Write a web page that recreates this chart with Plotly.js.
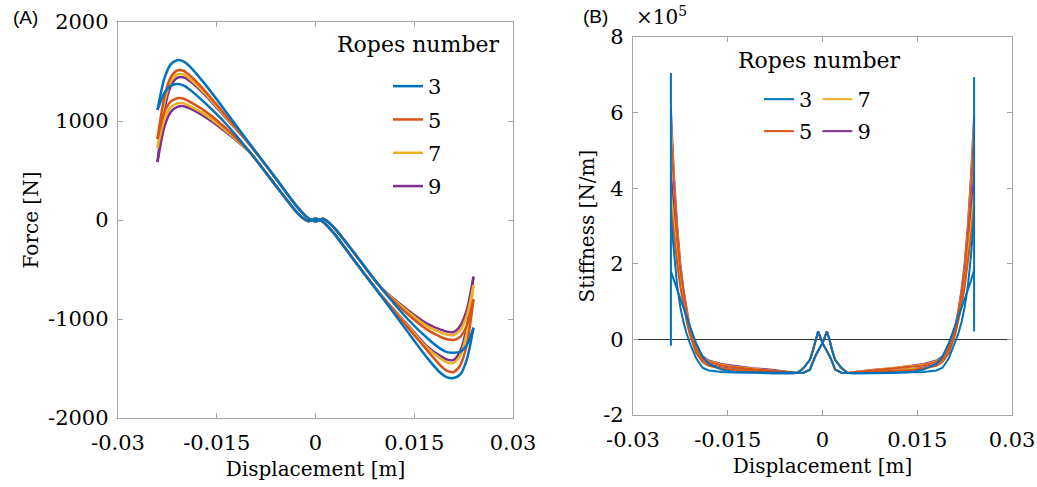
<!DOCTYPE html>
<html><head><meta charset="utf-8">
<script src="https://cdn.plot.ly/plotly-3.0.1.min.js"></script>
<style>html,body{margin:0;padding:0;background:#fff}#chart{width:1037px;height:487px}</style>
</head><body><div id="chart"></div>
<script>
// ---- categories / ticks ----
const ROPES = ['3', '5', '7', '9'];
const COLORS = ['#0072BD', '#D95319', '#EDB120', '#7E2F8E'];
const X_TICKS = [-0.03, -0.015, 0, 0.015, 0.03];
const X_TICK_TEXT = ['-0.03', '-0.015', '0', '0.015', '0.03'];
const FORCE_TICKS = [-2000, -1000, 0, 1000, 2000];
const FORCE_TICK_TEXT = ['-2000', '-1000', '0', '1000', '2000'];
const STIFF_TICKS = [-2, 0, 2, 4, 6, 8];
const STIFF_TICK_TEXT = ['-2', '0', '2', '4', '6', '8'];

// ---- panel A: force [N] vs displacement [m]; two branches (upper / lower) per rope number ----
const DISP_A = [-0.024,-0.023,-0.022,-0.021,-0.020,-0.019,-0.017,-0.014,-0.010,-0.006,-0.003,-0.002,-0.0011,-0.0006,-0.0001,0.0001,0.0006,0.0011,0.002,0.003,0.006,0.010,0.014,0.017,0.019,0.020,0.021,0.022,0.023,0.024];
const FORCE_3_UPPER = [1111,1420,1572,1614,1600,1545,1390,1130,770,420,150,75,18,-2,-12,-12,0,12,-25,-90,-345,-690,-1000,-1195,-1302,-1335,-1342,-1332,-1262,-1088];
const FORCE_3_LOWER = [1111,1280,1355,1374,1358,1312,1195,1000,690,345,90,25,-12,0,12,12,2,-18,-75,-150,-420,-770,-1130,-1395,-1545,-1590,-1596,-1560,-1405,-1088];
const FORCE_5_UPPER = [818,1230,1440,1510,1505,1455,1320,1085,765,418,150,75,18,-2,-12,-12,0,12,-25,-90,-344,-688,-950,-1110,-1180,-1205,-1212,-1178,-1062,-801];
const FORCE_5_LOWER = [818,1080,1195,1230,1225,1190,1110,950,688,344,90,25,-12,0,12,12,2,-18,-75,-150,-418,-765,-1085,-1320,-1470,-1525,-1535,-1465,-1255,-801];
const FORCE_7_UPPER = [727,1170,1395,1470,1468,1420,1295,1070,763,417,150,75,18,-2,-12,-12,0,12,-25,-90,-343,-686,-925,-1075,-1135,-1158,-1162,-1112,-962,-657];
const FORCE_7_LOWER = [727,1010,1138,1178,1178,1148,1075,925,686,343,90,25,-12,0,12,12,2,-18,-75,-150,-417,-763,-1070,-1295,-1400,-1438,-1444,-1368,-1132,-657];
const FORCE_9_UPPER = [586,1100,1350,1435,1440,1400,1280,1060,761,416,150,75,18,-2,-12,-12,0,12,-25,-90,-342,-684,-910,-1050,-1108,-1128,-1131,-1068,-902,-572];
const FORCE_9_LOWER = [586,930,1090,1142,1150,1125,1050,910,684,342,90,25,-12,0,12,12,2,-18,-75,-150,-416,-761,-1060,-1280,-1375,-1410,-1414,-1322,-1072,-572];

// ---- panel B: stiffness [x1e5 N/m] vs displacement [m] ----
const DISP_B = [-0.024,-0.0235,-0.023,-0.0225,-0.022,-0.0215,-0.021,-0.020,-0.019,-0.018,-0.016,-0.014,-0.011,-0.008,-0.005,-0.004,-0.003,-0.002,-0.0015,-0.0011,-0.0007,0,0.0007,0.0011,0.0015,0.002,0.003,0.004,0.005,0.008,0.011,0.014,0.016,0.018,0.019,0.020,0.021,0.0215,0.022,0.0225,0.023,0.0235,0.024];
const STIFF_3_UPPER = [3.2,2.2,1.4,0.85,0.45,0.15,-0.1,-0.5,-0.75,-0.82,-0.86,-0.875,-0.88,-0.89,-0.89,-0.89,-0.88,-0.8,-0.58,-0.43,-0.3,-0.1,0.21,0,-0.28,-0.54,-0.76,-0.89,-0.9,-0.9,-0.89,-0.86,-0.8,-0.65,-0.45,-0.1,0.35,0.6,0.85,1.08,1.3,1.55,1.84];
const STIFF_3_LOWER = [1.8,1.55,1.3,1.08,0.85,0.6,0.35,-0.1,-0.45,-0.65,-0.8,-0.86,-0.89,-0.9,-0.9,-0.89,-0.76,-0.54,-0.28,0,0.21,-0.1,-0.3,-0.43,-0.58,-0.8,-0.88,-0.89,-0.89,-0.89,-0.88,-0.875,-0.86,-0.82,-0.75,-0.5,-0.1,0.15,0.45,0.85,1.4,2.2,3.24];
const STIFF_5_UPPER = [5.4,3.9,2.75,1.85,1.2,0.7,0.3,-0.24,-0.5,-0.6,-0.69,-0.74,-0.79,-0.82,-0.87,-0.89,-0.88,-0.8,-0.58,-0.43,-0.3,-0.1,0.21,0,-0.28,-0.54,-0.76,-0.89,-0.88,-0.86,-0.84,-0.81,-0.77,-0.7,-0.6,-0.36,0.13,0.47,0.88,1.38,2.0,2.7,3.5];
const STIFF_5_LOWER = [3.5,2.7,2.0,1.38,0.88,0.47,0.13,-0.36,-0.6,-0.7,-0.77,-0.81,-0.84,-0.86,-0.88,-0.89,-0.76,-0.54,-0.28,0,0.21,-0.1,-0.3,-0.43,-0.58,-0.8,-0.88,-0.89,-0.87,-0.82,-0.79,-0.74,-0.69,-0.6,-0.5,-0.24,0.3,0.7,1.2,1.85,2.75,3.9,5.5];
const STIFF_7_UPPER = [5.8,4.1,2.85,1.9,1.22,0.7,0.3,-0.22,-0.47,-0.58,-0.67,-0.72,-0.77,-0.81,-0.86,-0.89,-0.88,-0.8,-0.58,-0.43,-0.3,-0.1,0.21,0,-0.28,-0.54,-0.76,-0.89,-0.88,-0.85,-0.83,-0.8,-0.76,-0.69,-0.58,-0.33,0.17,0.52,0.95,1.5,2.2,3.0,3.9];
const STIFF_7_LOWER = [3.9,3.0,2.2,1.5,0.95,0.52,0.17,-0.33,-0.58,-0.69,-0.76,-0.8,-0.83,-0.85,-0.88,-0.89,-0.76,-0.54,-0.28,0,0.21,-0.1,-0.3,-0.43,-0.58,-0.8,-0.88,-0.89,-0.86,-0.81,-0.77,-0.72,-0.67,-0.58,-0.47,-0.22,0.3,0.7,1.22,1.9,2.85,4.1,5.7];
const STIFF_9_UPPER = [6.1,4.3,3.0,2.0,1.3,0.75,0.33,-0.2,-0.45,-0.56,-0.65,-0.7,-0.76,-0.8,-0.86,-0.89,-0.88,-0.8,-0.58,-0.43,-0.3,-0.1,0.21,0,-0.28,-0.54,-0.76,-0.89,-0.88,-0.84,-0.81,-0.78,-0.74,-0.66,-0.55,-0.3,0.22,0.6,1.05,1.65,2.4,3.3,4.4];
const STIFF_9_LOWER = [4.4,3.3,2.4,1.65,1.05,0.6,0.22,-0.3,-0.55,-0.66,-0.74,-0.78,-0.81,-0.84,-0.88,-0.89,-0.76,-0.54,-0.28,0,0.21,-0.1,-0.3,-0.43,-0.58,-0.8,-0.88,-0.89,-0.86,-0.8,-0.76,-0.7,-0.65,-0.56,-0.45,-0.2,0.33,0.75,1.3,2.0,3.0,4.3,5.9];
// vertical end segments of the 3-rope stiffness curves
const EDGE_X = [-0.024, 0.024];
const EDGE_LOW = [-0.17, 0.21];
const EDGE_HIGH = [7.05, 6.94];

const FORCE = [[FORCE_3_UPPER, FORCE_3_LOWER], [FORCE_5_UPPER, FORCE_5_LOWER], [FORCE_7_UPPER, FORCE_7_LOWER], [FORCE_9_UPPER, FORCE_9_LOWER]];
const STIFF = [[STIFF_3_UPPER, STIFF_3_LOWER], [STIFF_5_UPPER, STIFF_5_LOWER], [STIFF_7_UPPER, STIFF_7_LOWER], [STIFF_9_UPPER, STIFF_9_LOWER]];

const traces = [];
// draw order: 9, 7, 5, 3 (blue on top)
for (let i = ROPES.length - 1; i >= 0; i--) {
  FORCE[i].forEach((ys, j) => {
    traces.push({
      type: 'scatter', mode: 'lines', x: DISP_A, y: ys, xaxis: 'x', yaxis: 'y',
      line: {color: COLORS[i], width: 2.5, shape: 'spline', smoothing: 0.7},
      name: ROPES[i], legend: 'legend', legendgroup: 'A' + ROPES[i], legendrank: i + 1,
      showlegend: j === 0, hoverinfo: 'skip'
    });
  });
}
const legendB = {'3': 'legend2', '7': 'legend2', '5': 'legend3', '9': 'legend3'};
const rankB = {'3': 1, '7': 2, '5': 1, '9': 2};
for (let i = ROPES.length - 1; i >= 0; i--) {
  STIFF[i].forEach((ys, j) => {
    traces.push({
      type: 'scatter', mode: 'lines', x: DISP_B, y: ys, xaxis: 'x2', yaxis: 'y2',
      line: {color: COLORS[i], width: 2},
      name: ROPES[i], legend: legendB[ROPES[i]], legendrank: rankB[ROPES[i]],
      showlegend: j === 0, hoverinfo: 'skip'
    });
  });
}
EDGE_X.forEach((ex, k) => {
  traces.push({
    type: 'scatter', mode: 'lines', x: [ex, ex], y: [EDGE_LOW[k], EDGE_HIGH[k]], xaxis: 'x2', yaxis: 'y2',
    line: {color: COLORS[0], width: 2}, showlegend: false, hoverinfo: 'skip'
  });
});

const AX = '#a6a6a6';
const FONT = 'DejaVu Serif';
function xAxis(domain, anchor) {
  return {
    domain: domain, anchor: anchor, range: [-0.03, 0.03], tickvals: X_TICKS, ticktext: X_TICK_TEXT,
    ticks: 'inside', ticklen: 5, tickcolor: AX, tickwidth: 1, linecolor: AX, linewidth: 1.2, mirror: 'ticks',
    showgrid: false, zeroline: false, automargin: false, tickfont: {family: FONT, size: 21, color: '#000'},
    ticklabelstandoff: 6,
    title: {text: 'Displacement [m]', font: {family: FONT, size: 20, color: '#000'}, standoff: 7}
  };
}
const layout = {
  width: 1037, height: 487, margin: {l: 0, r: 0, t: 0, b: 0},
  paper_bgcolor: '#fff', plot_bgcolor: '#fff',
  font: {family: FONT, size: 20, color: '#000'},
  xaxis: xAxis([118 / 1037, 513 / 1037], 'y'),
  xaxis2: xAxis([633 / 1037, 1012 / 1037], 'y2'),
  yaxis: {
    domain: [(487 - 418) / 487, (487 - 22) / 487], anchor: 'x', range: [-2000, 2000],
    tickvals: FORCE_TICKS, ticktext: FORCE_TICK_TEXT,
    ticks: 'inside', ticklen: 5, tickcolor: AX, tickwidth: 1, linecolor: AX, linewidth: 1.2, mirror: 'ticks',
    showgrid: false, zeroline: false, automargin: false, tickfont: {family: FONT, size: 21, color: '#000'},
    ticklabelstandoff: 4,
    title: {text: 'Force [N]', font: {family: FONT, size: 20, color: '#000'}, standoff: 4}
  },
  yaxis2: {
    domain: [(487 - 415) / 487, (487 - 37) / 487], anchor: 'x2', range: [-2, 8],
    tickvals: STIFF_TICKS, ticktext: STIFF_TICK_TEXT,
    ticks: 'inside', ticklen: 5, tickcolor: AX, tickwidth: 1, linecolor: AX, linewidth: 1.2, mirror: 'ticks',
    showgrid: false, zeroline: true, zerolinecolor: '#333', zerolinewidth: 1, automargin: false,
    tickfont: {family: FONT, size: 21, color: '#000'}, ticklabelstandoff: 4,
    title: {text: 'Stiffness [N/m]', font: {family: FONT, size: 20, color: '#000'}, standoff: 3}
  },
  legend: {
    x: 388 / 1037, y: (487 - 66) / 487, xanchor: 'left', yanchor: 'top', bgcolor: 'rgba(0,0,0,0)',
    font: {family: FONT, size: 21, color: '#000'}, tracegroupgap: 3, itemwidth: 30, traceorder: 'grouped'
  },
  legend2: {
    x: 759 / 1037, y: (487 - 79) / 487, xanchor: 'left', yanchor: 'top', orientation: 'h',
    bgcolor: 'rgba(0,0,0,0)', font: {family: FONT, size: 21, color: '#000'}, itemwidth: 30
  },
  legend3: {
    x: 759 / 1037, y: (487 - 111) / 487, xanchor: 'left', yanchor: 'top', orientation: 'h',
    bgcolor: 'rgba(0,0,0,0)', font: {family: FONT, size: 21, color: '#000'}, itemwidth: 30
  },
  annotations: [
    {text: 'Ropes number', x: 418 / 1037, y: (487 - 45) / 487, xref: 'paper', yref: 'paper', xanchor: 'center', yanchor: 'middle', showarrow: false, font: {family: FONT, size: 22, color: '#000'}},
    {text: 'Ropes number', x: 819 / 1037, y: (487 - 60) / 487, xref: 'paper', yref: 'paper', xanchor: 'center', yanchor: 'middle', showarrow: false, font: {family: FONT, size: 22, color: '#000'}},
    {text: '(A)', x: 11 / 1037, y: (487 - 18) / 487, xref: 'paper', yref: 'paper', xanchor: 'left', yanchor: 'middle', showarrow: false, font: {family: 'Liberation Sans', size: 19, color: '#000'}},
    {text: '(B)', x: 581 / 1037, y: (487 - 16) / 487, xref: 'paper', yref: 'paper', xanchor: 'left', yanchor: 'middle', showarrow: false, font: {family: 'Liberation Sans', size: 19, color: '#000'}},
    {text: '×10<sup>5</sup>', x: 634 / 1037, y: (487 - 16) / 487, xref: 'paper', yref: 'paper', xanchor: 'left', yanchor: 'middle', showarrow: false, font: {family: FONT, size: 20, color: '#000'}}
  ]
};
Plotly.newPlot('chart', traces, layout, {displayModeBar: false, staticPlot: true});
</script>
</body></html>
